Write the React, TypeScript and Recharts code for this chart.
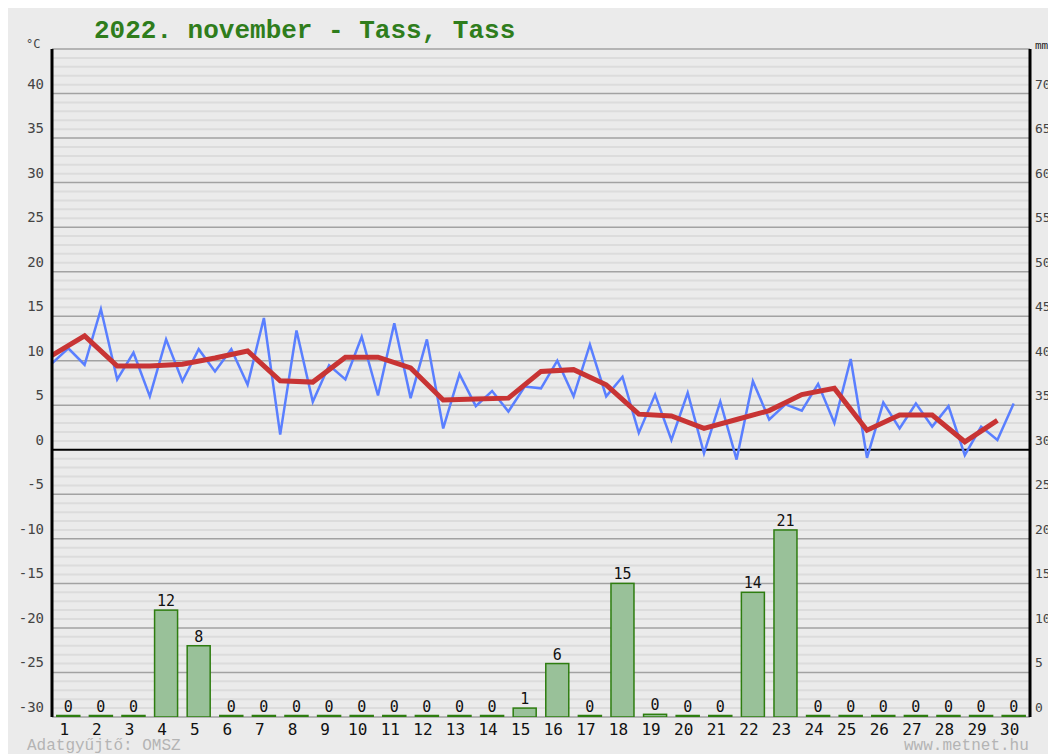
import React from 'react';
import {
  ComposedChart,
  Bar,
  Line,
  XAxis,
  YAxis,
  CartesianGrid,
  ReferenceLine,
  LabelList,
} from 'recharts';

const dayLabels = ['1','2','3','4','5','6','7','8','9','10','11','12','13','14','15','16','17','18','19','20','21','22','23','24','25','26','27','28','29','30'];

const precipMm = [0, 0, 0, 12, 8, 0, 0, 0, 0, 0, 0, 0, 0, 0, 1, 6, 0, 15, 0.3, 0, 0, 14, 21, 0, 0, 0, 0, 0, 0, 0];

const dailyMeanTemp = [
  10.6, 12.8, 9.4, 9.4, 9.6, 10.3, 11.1, 7.75, 7.6, 10.4,
  10.4, 9.2, 5.6, 5.7, 5.8, 8.8, 9.0, 7.3, 4.0, 3.8,
  2.4, 3.4, 4.4, 6.2, 6.9, 2.2, 3.9, 3.9, 0.9, 3.3,
];

const halfDayTemp = [
  9.7, 11.4, 9.55, 15.8, 7.9, 10.9, 6.0, 12.4, 7.7, 11.3,
  8.8, 11.3, 7.3, 14.8, 1.7, 13.4, 5.4, 9.5, 7.9, 12.7,
  6.1, 14.2, 5.8, 12.4, 2.4, 8.5, 4.9, 6.6, 4.3, 7.1,
  6.9, 10.0, 6.0, 11.8, 6.0, 8.2, 1.9, 6.2, 1.1, 6.4,
  -0.4, 5.4, -1.1, 7.7, 3.4, 5.1, 4.4, 7.4, 3.0, 10.2,
  -0.9, 5.3, 2.4, 5.2, 2.6, 4.9, -0.6, 2.6, 1.1, 5.2,
];

const tempTicks = [-30, -25, -20, -15, -10, -5, 0, 5, 10, 15, 20, 25, 30, 35, 40];
const mmTicks = [0, 5, 10, 15, 20, 25, 30, 35, 40, 45, 50, 55, 60, 65, 70];
const majorGrid = [-30, -25, -20, -15, -10, -5, 5, 10, 15, 20, 25, 30, 35, 40, 45];
const minorGrid: number[] = [];
for (let v = -30; v <= 45; v++) if (v % 5 !== 0) minorGrid.push(v);

// build table: x in half-day steps
const rows: any[] = [];
for (let j = 0; j <= 60; j++) {
  const row: any = { x: j / 2 };
  if (j < halfDayTemp.length) row.half = halfDayTemp[j];
  if (j % 2 === 0 && j / 2 < dailyMeanTemp.length) row.mean = dailyMeanTemp[j / 2];
  if (j % 2 === 1) row.precip = precipMm[(j - 1) / 2];
  rows.push(row);
}
const dayTicks = dayLabels.map((_, i) => i + 0.5);

const mono = '"DejaVu Sans Mono", "Liberation Mono", monospace';
const courier = '"Liberation Mono", "Courier New", monospace';

const LeftTick = (props: any) => {
  const { x, y, payload } = props;
  return (
    <text x={x} y={y - 5} textAnchor="end" fontFamily={mono} fontSize={14} fill="#444">
      {payload.value}
    </text>
  );
};

const RightTick = (props: any) => {
  const { x, y, payload } = props;
  return (
    <text x={x - 3} y={y - 5} textAnchor="start" fontFamily={mono} fontSize={13} fill="#444">
      {payload.value}
    </text>
  );
};

const BottomTick = (props: any) => {
  const { x, y, payload } = props;
  const idx = Math.round(payload.value - 0.5);
  return (
    <text x={x - 4} y={y + 10} textAnchor="middle" fontFamily={mono} fontSize={16} fill="#111">
      {dayLabels[idx]}
    </text>
  );
};

const BarShape = (props: any) => {
  const { x, y, width, height } = props;
  if (x === undefined || y === undefined) return null;
  const cx = x + width / 2;
  const w = 23;
  const h = Math.max(height, 1.5);
  return (
    <rect
      x={cx - w / 2}
      y={y + height - h}
      width={w}
      height={h}
      fill="#99c199"
      stroke="#2e7d10"
      strokeWidth={1.5}
    />
  );
};

export default function App() {
  return (
    <div style={{ position: 'relative', width: 1048, height: 746, background: '#ebebeb' }}>
      <div
        style={{
          position: 'absolute',
          left: 86,
          top: 8,
          fontFamily: courier,
          fontWeight: 'bold',
          fontSize: 26,
          color: '#2f7d1c',
          whiteSpace: 'nowrap',
          lineHeight: '30px',
        }}
      >
        2022. november - Tass, Tass
      </div>
      <div style={{ position: 'absolute', left: 18, top: 29, fontFamily: mono, fontSize: 12, color: '#444' }}>°C</div>
      <div style={{ position: 'absolute', left: 1027, top: 31, fontFamily: mono, fontSize: 11, color: '#222', whiteSpace: 'nowrap' }}>mm</div>
      <ComposedChart
        width={1048}
        height={746}
        data={rows}
        margin={{ top: 41, right: 0, bottom: 0, left: 0 }}
        style={{ overflow: 'visible' }}
      >
        <CartesianGrid
          yAxisId="t"
          horizontal={true}
          vertical={false}
          horizontalValues={minorGrid}
          stroke="#dcdcdc"
          strokeWidth={2}
        />
        <CartesianGrid
          yAxisId="t"
          horizontal={true}
          vertical={false}
          horizontalValues={majorGrid}
          stroke="#a2a2a2"
          strokeWidth={1.5}
        />
        <XAxis
          dataKey="x"
          type="number"
          domain={[0, 30]}
          ticks={dayTicks}
          interval={0}
          axisLine={false}
          tickLine={false}
          height={37}
          tick={<BottomTick />}
          allowDataOverflow
        />
        <YAxis
          yAxisId="t"
          orientation="left"
          type="number"
          domain={[-30, 45]}
          ticks={tempTicks}
          interval={0}
          width={44}
          axisLine={{ stroke: '#000', strokeWidth: 3 }}
          tickLine={false}
          tick={<LeftTick />}
          allowDataOverflow
        />
        <YAxis
          yAxisId="mm"
          orientation="right"
          type="number"
          domain={[0, 75]}
          ticks={mmTicks}
          interval={0}
          width={26}
          axisLine={{ stroke: '#000', strokeWidth: 3 }}
          tickLine={false}
          tick={<RightTick />}
          allowDataOverflow
        />
        <ReferenceLine yAxisId="t" y={0} stroke="#000" strokeWidth={2} />
        <Bar
          yAxisId="mm"
          dataKey="precip"
          minPointSize={1.5}
          shape={<BarShape />}
          isAnimationActive={false}
        >
          <LabelList
            dataKey="precip"
            position="top"
            offset={4}
            formatter={(v: any) => (v === undefined || v === null ? '' : String(Math.round(Number(v))))}
            style={{ fontFamily: mono, fontSize: 15, fill: '#111' }}
          />
        </Bar>
        <Line
          yAxisId="t"
          dataKey="half"
          type="linear"
          stroke="#5a7fff"
          strokeWidth={2.5}
          dot={false}
          connectNulls
          isAnimationActive={false}
        />
        <Line
          yAxisId="t"
          dataKey="mean"
          type="linear"
          stroke="#c83434"
          strokeWidth={5}
          dot={false}
          connectNulls
          isAnimationActive={false}
        />
      </ComposedChart>
      <div style={{ position: 'absolute', left: 19, top: 730, fontFamily: courier, fontSize: 16, color: '#b4b4b4', whiteSpace: 'nowrap', lineHeight: '16px' }}>
        Adatgyűjtő: OMSZ
      </div>
      <div style={{ position: 'absolute', left: 896, top: 730, fontFamily: courier, fontSize: 16, color: '#b4b4b4', whiteSpace: 'nowrap', lineHeight: '16px' }}>
        www.metnet.hu
      </div>
    </div>
  );
}
